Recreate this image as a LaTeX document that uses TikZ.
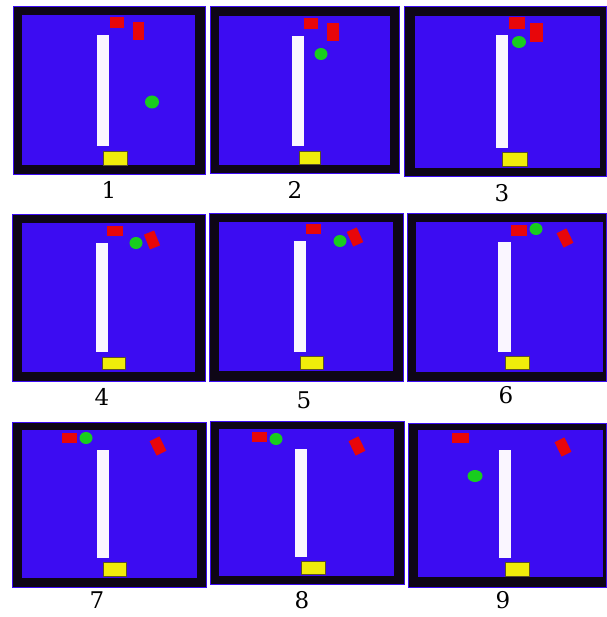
\documentclass[tikz,border=0pt]{standalone}
\usepackage{fontspec}
\setmainfont{DejaVu Serif}
\begin{document}
\begin{tikzpicture}[x=1pt,y=-1pt,
  frame/.style={fill=frameblack,draw=fieldblue,line width=1pt},
  field/.style={fill=fieldblue},
  wall/.style={fill=wallwhite},
  pad/.style={fill=padyellow,draw=padedge,line width=0.4pt},
  brick/.style={fill=brickred},
  ball/.style={fill=ballgreen},
  lbl/.style={font=\fontsize{23}{27}\selectfont,inner sep=0pt}]
\definecolor{fieldblue}{RGB}{60,12,242}
\definecolor{frameblack}{RGB}{14,6,22}
\definecolor{wallwhite}{RGB}{250,246,255}
\definecolor{padyellow}{RGB}{240,236,10}
\definecolor{padedge}{RGB}{90,80,40}
\definecolor{brickred}{RGB}{232,6,10}
\definecolor{ballgreen}{RGB}{24,205,30}
\useasboundingbox (0,0) rectangle (606,617);
\fill[white] (0,0) rectangle (606,617);

% ---- frame 1
\draw[frame] (13,7) rectangle (205,175);
\fill[field] (22,15) rectangle (195,165);
\fill[wall] (97,35) rectangle (109,146);
\draw[pad] (103,151) rectangle (127,165);
\fill[brick] (110,17) rectangle (124,28);
\fill[brick] (133,22) rectangle (144,40);
\fill[ball] (152,102) ellipse (7 and 6.5);
\node[lbl] (n1) at (109,190) {1};

% ---- frame 2
\draw[frame] (210,7) rectangle (399,174);
\fill[field] (219,16) rectangle (390,165);
\fill[wall] (292,36) rectangle (304,146);
\draw[pad] (299,151) rectangle (320,164);
\fill[brick] (304,18) rectangle (318,29);
\fill[brick] (327,23) rectangle (339,41);
\fill[ball] (321,54) ellipse (6.5 and 6);
\node[lbl] (n2) at (295,190) {2};

% ---- frame 3
\draw[frame] (404,7) rectangle (606,177);
\fill[field] (415,16) rectangle (600,168);
\fill[wall] (496,35) rectangle (508,148);
\draw[pad] (502,152) rectangle (527,166);
\fill[brick] (509,17) rectangle (525,29);
\fill[brick] (530,23) rectangle (543,42);
\fill[ball] (519,42) ellipse (7 and 6);
\node[lbl] (n3) at (502,193) {3};

% ---- frame 4
\draw[frame] (12,215) rectangle (205,381);
\fill[field] (22,223) rectangle (195,372);
\fill[wall] (96,243) rectangle (108,352);
\draw[pad] (102,357) rectangle (125,369);
\fill[brick] (107,226) rectangle (123,236);
\fill[brick,rotate around={22:(152,240)}] (146.5,232) rectangle (157.5,248);
\fill[ball] (136,243) ellipse (6.5 and 6);
\node[lbl] (n4) at (102,397) {4};

% ---- frame 5
\draw[frame] (209,214) rectangle (403,381);
\fill[field] (219,222) rectangle (393,371);
\fill[wall] (294,241) rectangle (306,352);
\draw[pad] (300,356) rectangle (323,369);
\fill[brick] (306,224) rectangle (321,234);
\fill[brick,rotate around={24:(355,237)}] (349.5,229) rectangle (360.5,245);
\fill[ball] (340,241) ellipse (6.5 and 6);
\node[lbl] (n5) at (304,400) {5};

% ---- frame 6
\draw[frame] (407,214) rectangle (606,381);
\fill[field] (416,222) rectangle (603,372);
\fill[wall] (498,242) rectangle (511,352);
\draw[pad] (505,356) rectangle (529,369);
\fill[brick] (511,225) rectangle (527,236);
\fill[brick,rotate around={26:(565,238)}] (559.5,230) rectangle (570.5,246);
\fill[ball] (536,229) ellipse (6.5 and 6);
\node[lbl] (n6) at (506,395) {6};

% ---- frame 7
\draw[frame] (12,422) rectangle (206,587);
\fill[field] (22,430) rectangle (197,578);
\fill[wall] (97,450) rectangle (109,558);
\draw[pad] (103,562) rectangle (126,576);
\fill[brick] (62,433) rectangle (77,443);
\fill[brick,rotate around={26:(158,446)}] (152.5,438) rectangle (163.5,454);
\fill[ball] (86,438) ellipse (6.5 and 6);
\node[lbl] (n7) at (97,600) {7};

% ---- frame 8
\draw[frame] (210,421) rectangle (404,584);
\fill[field] (219,429) rectangle (394,576);
\fill[wall] (295,449) rectangle (307,557);
\draw[pad] (301,561) rectangle (325,574);
\fill[brick] (252,432) rectangle (267,442);
\fill[brick,rotate around={26:(357,446)}] (351.5,438) rectangle (362.5,454);
\fill[ball] (276,439) ellipse (6.5 and 6);
\node[lbl] (n8) at (302,600) {8};

% ---- frame 9
\draw[frame] (408,423) rectangle (606,587);
\fill[field] (418,430) rectangle (603,577);
\fill[wall] (499,450) rectangle (511,558);
\draw[pad] (505,562) rectangle (529,576);
\fill[brick] (452,433) rectangle (469,443);
\fill[brick,rotate around={26:(563,447)}] (557.5,439) rectangle (568.5,455);
\fill[ball] (475,476) ellipse (7.5 and 6);
\node[lbl] (n9) at (503,600) {9};
\end{tikzpicture}
\end{document}
